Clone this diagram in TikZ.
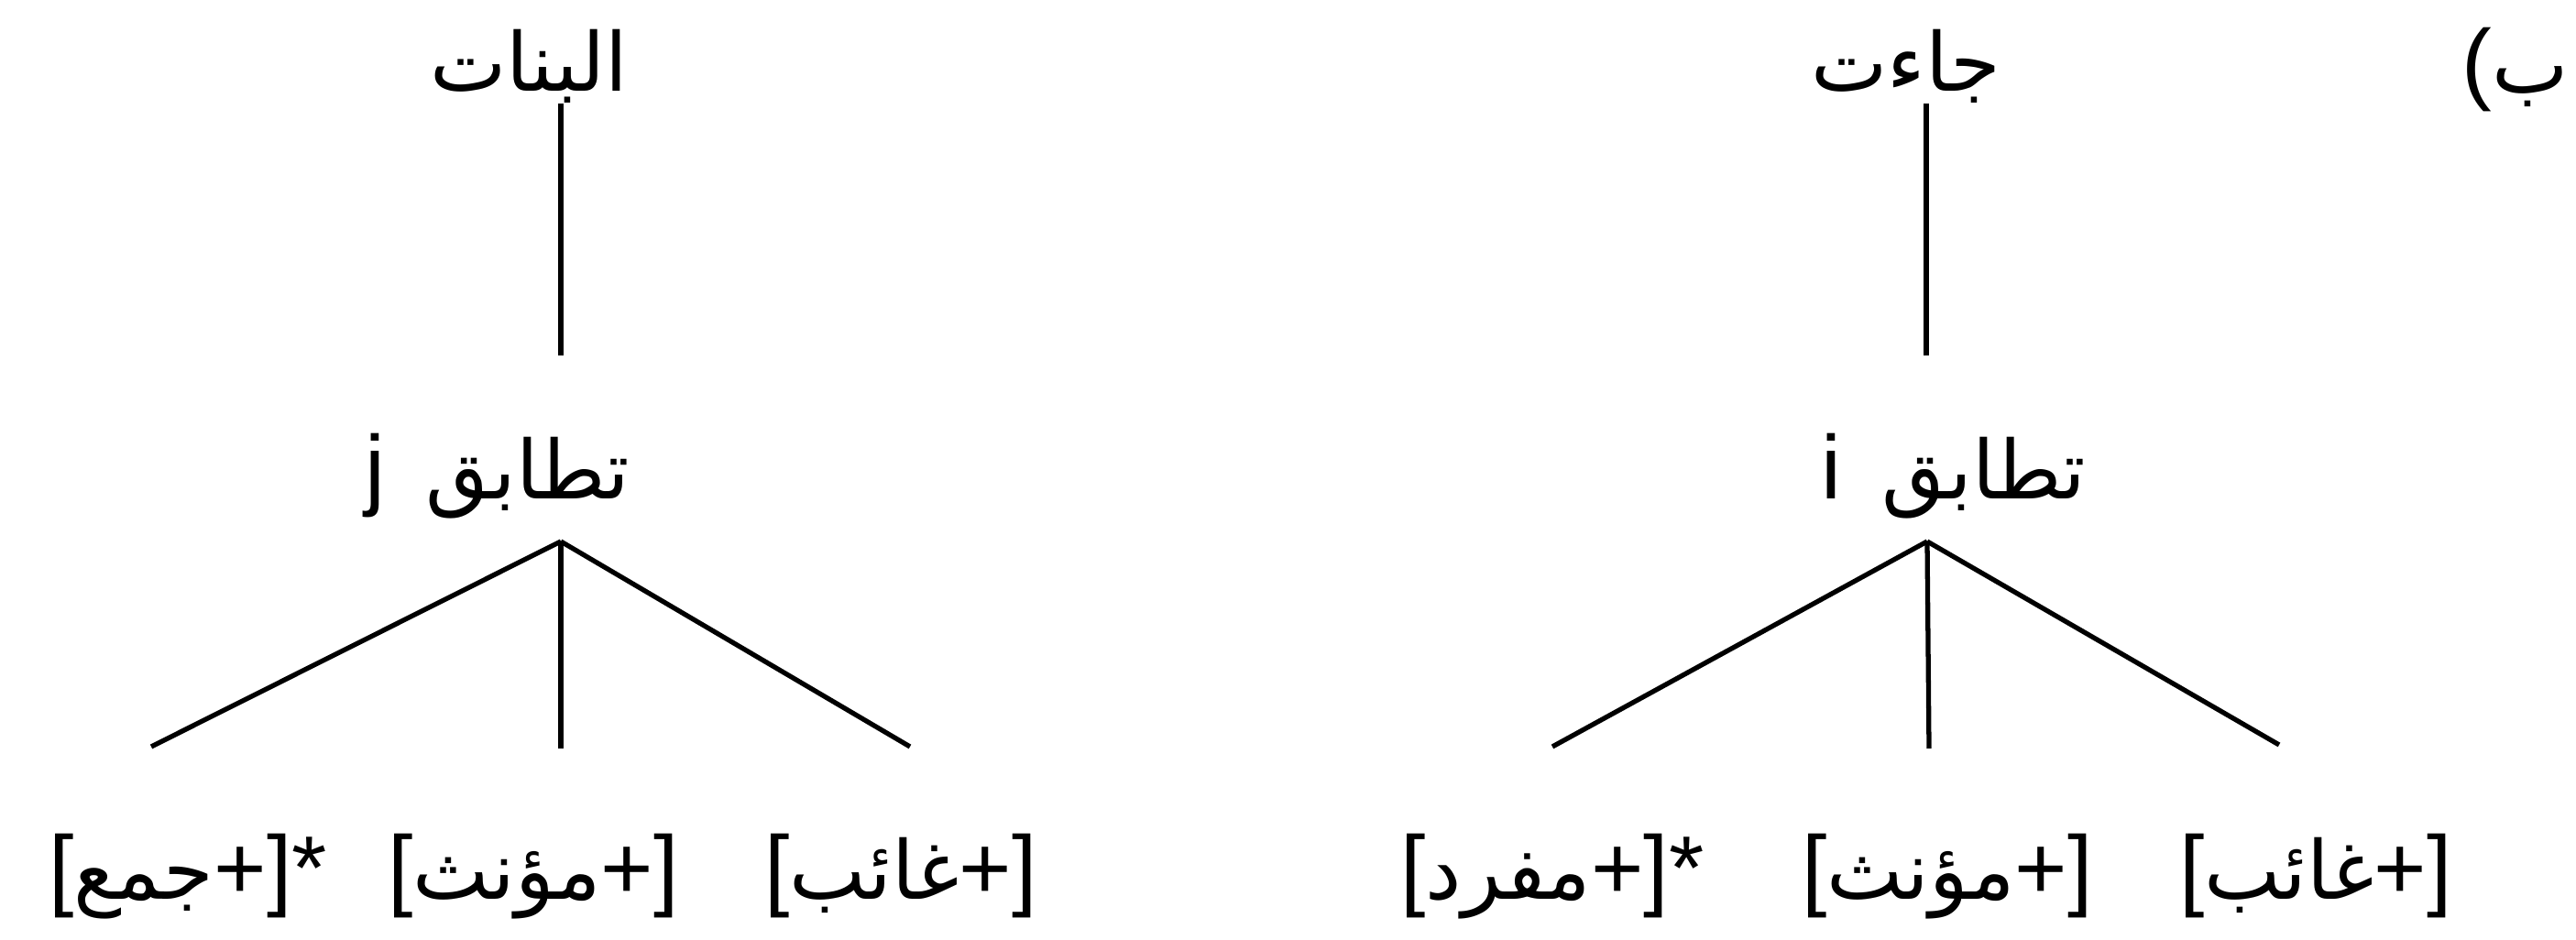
\documentclass[tikz,border=0pt]{standalone}
\usepackage{fontspec}
\setmainfont{Liberation Sans}
\newfontfamily\arabicfont[Script=Arabic,Scale=0.9]{DejaVu Sans}
\TeXXeTstate=1
\newcommand\arb[1]{{\arabicfont\beginR #1\endR}}
\tikzset{
  lbl/.style={font=\fontsize{28}{34}\selectfont, inner sep=0pt, anchor=base},
  branch/.style={line width=1.5pt}
}
\begin{document}
\begin{tikzpicture}
  \useasboundingbox (0,0) rectangle (28.11,10.26);
  \node[lbl] (tag) at (27.45,9.24) {(\arb{ب}};
  % left tree
  \node[lbl] (root1) at (5.77,9.26) {\arb{البنات}};
  \node[lbl] (agr1) at (5.43,4.81) {j\hspace{0.45em}\arb{تطابق}};
  \node[lbl] (f11) at (2.05,0.44) {[\arb{جمع}+]*};
  \node[lbl] (f12) at (5.82,0.44) {[\arb{مؤنث}+]};
  \node[lbl] (f13) at (9.83,0.44) {[\arb{غائب}+]};
  \coordinate (top1) at (6.12,9.13);
  \coordinate (low1) at (6.12,6.38);
  \coordinate (apex1) at (6.12,4.35);
  \coordinate (l1) at (1.65,2.11);
  \coordinate (m1) at (6.12,2.09);
  \coordinate (r1) at (9.93,2.11);
  \draw[branch] (top1) -- (low1);
  \foreach \f in {l1,m1,r1} \draw[branch] (apex1) -- (\f);
  % right tree
  \node[lbl] (root2) at (20.80,9.26) {\arb{جاءت}};
  \node[lbl] (agr2) at (21.32,4.81) {i\hspace{0.45em}\arb{تطابق}};
  \node[lbl] (f21) at (16.94,0.44) {[\arb{مفرد}+]*};
  \node[lbl] (f22) at (21.25,0.44) {[\arb{مؤنث}+]};
  \node[lbl] (f23) at (25.27,0.44) {[\arb{غائب}+]};
  \coordinate (top2) at (21.02,9.13);
  \coordinate (low2) at (21.02,6.38);
  \coordinate (apex2) at (21.03,4.35);
  \coordinate (l2) at (16.94,2.11);
  \coordinate (m2) at (21.05,2.09);
  \coordinate (r2) at (24.87,2.13);
  \draw[branch] (top2) -- (low2);
  \foreach \f in {l2,m2,r2} \draw[branch] (apex2) -- (\f);
\end{tikzpicture}
\end{document}
